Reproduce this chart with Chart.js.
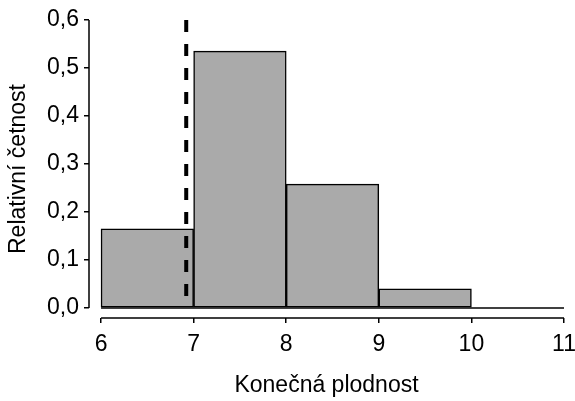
<!DOCTYPE html>
<html lang="cs">
<head>
  <meta charset="UTF-8" />
  <title>Konečná plodnost</title>
  <script src="https://cdn.jsdelivr.net/npm/chart.js"></script>
  <style>
    * { margin: 0; padding: 0; box-sizing: border-box; }
    body { background: #fff; }
    #wrap { width: 575px; height: 401px; }
  </style>
</head>
<body>
  <div id="wrap"><canvas id="hist" width="575" height="401"></canvas></div>

  <script>
    // histogram bins (left edges), relative frequencies, marker position
    const binStarts = [6, 7, 8, 9, 10];
    const binWidth = 1;
    const relFreq = [0.165, 0.535, 0.258, 0.04, 0];
    const markerX = 6.92;
    const yTickValues = [0, 0.1, 0.2, 0.3, 0.4, 0.5, 0.6];
    const xTickValues = [6, 7, 8, 9, 10, 11];

    const fontFamily = "'Liberation Sans', Arial, sans-serif";
    const fontSize = 23;

    const barData = binStarts.map((s, i) => ({ x: s + binWidth / 2, y: relFreq[i] }));
    const lastEdge = binStarts[binStarts.length - 1] + binWidth;

    // draws the detached axis lines (only between first and last tick)
    const axisLines = {
      id: 'axisLines',
      afterDraw(chart) {
        const { ctx, chartArea, scales } = chart;
        ctx.save();
        ctx.strokeStyle = '#000';
        ctx.lineWidth = 1.5;
        ctx.beginPath();
        ctx.moveTo(chartArea.left, scales.y.getPixelForValue(yTickValues[yTickValues.length - 1]));
        ctx.lineTo(chartArea.left, scales.y.getPixelForValue(yTickValues[0]));
        ctx.moveTo(scales.x.getPixelForValue(xTickValues[0]), chartArea.bottom);
        ctx.lineTo(scales.x.getPixelForValue(xTickValues[xTickValues.length - 1]), chartArea.bottom);
        ctx.stroke();
        ctx.restore();
      }
    };

    new Chart(document.getElementById('hist'), {
      type: 'bar',
      data: {
        datasets: [
          {
            type: 'line',
            data: [{ x: markerX, y: 0.6 }, { x: markerX, y: 0 }],
            borderColor: '#000',
            borderWidth: 4,
            borderDash: [12, 12],
            pointRadius: 0,
            order: 1
          },
          {
            type: 'line',
            data: [{ x: binStarts[0], y: 0 }, { x: lastEdge, y: 0 }],
            borderColor: '#000',
            borderWidth: 1.5,
            pointRadius: 0,
            order: 2
          },
          {
            data: barData,
            backgroundColor: '#aaaaaa',
            borderColor: '#000',
            borderWidth: 1.5,
            borderSkipped: false,
            barPercentage: 1,
            categoryPercentage: 1,
            order: 3
          }
        ]
      },
      options: {
        responsive: false,
        animation: false,
        layout: { padding: { top: 20, right: 11, left: 0, bottom: 0 } },
        plugins: { legend: { display: false }, tooltip: { enabled: false } },
        scales: {
          x: {
            type: 'linear',
            offset: false,
            min: 5.87,
            max: 11,
            afterBuildTicks(scale) { scale.ticks = xTickValues.map(v => ({ value: v })); },
            afterFit(scale) { scale.height = 83; scale.paddingRight = 0; scale.paddingLeft = 0; },
            border: { display: false },
            grid: { offset: false, drawOnChartArea: false, drawTicks: true, tickLength: 5, color: '#000', lineWidth: 1.5 },
            ticks: { color: '#000', font: { family: fontFamily, size: fontSize }, padding: 8, maxRotation: 0 },
            title: {
              display: true, text: 'Konečná plodnost', color: '#000',
              font: { family: fontFamily, size: fontSize }, padding: { top: 0, bottom: 2 }
            }
          },
          y: {
            type: 'linear',
            min: -0.021,
            max: 0.6,
            afterBuildTicks(scale) { scale.ticks = yTickValues.map(v => ({ value: v })); },
            afterFit(scale) { scale.width = 89; scale.paddingTop = 0; scale.paddingBottom = 0; },
            border: { display: false },
            grid: { drawOnChartArea: false, drawTicks: true, tickLength: 5, color: '#000', lineWidth: 1.5 },
            ticks: {
              color: '#000', font: { family: fontFamily, size: fontSize }, padding: 5,
              callback: v => v.toFixed(1).replace('.', ',')
            },
            title: {
              display: true, text: 'Relativní četnost', color: '#000',
              font: { family: fontFamily, size: fontSize }, padding: { top: 5, bottom: 0 }
            }
          }
        }
      },
      plugins: [axisLines]
    });
  </script>
</body>
</html>
